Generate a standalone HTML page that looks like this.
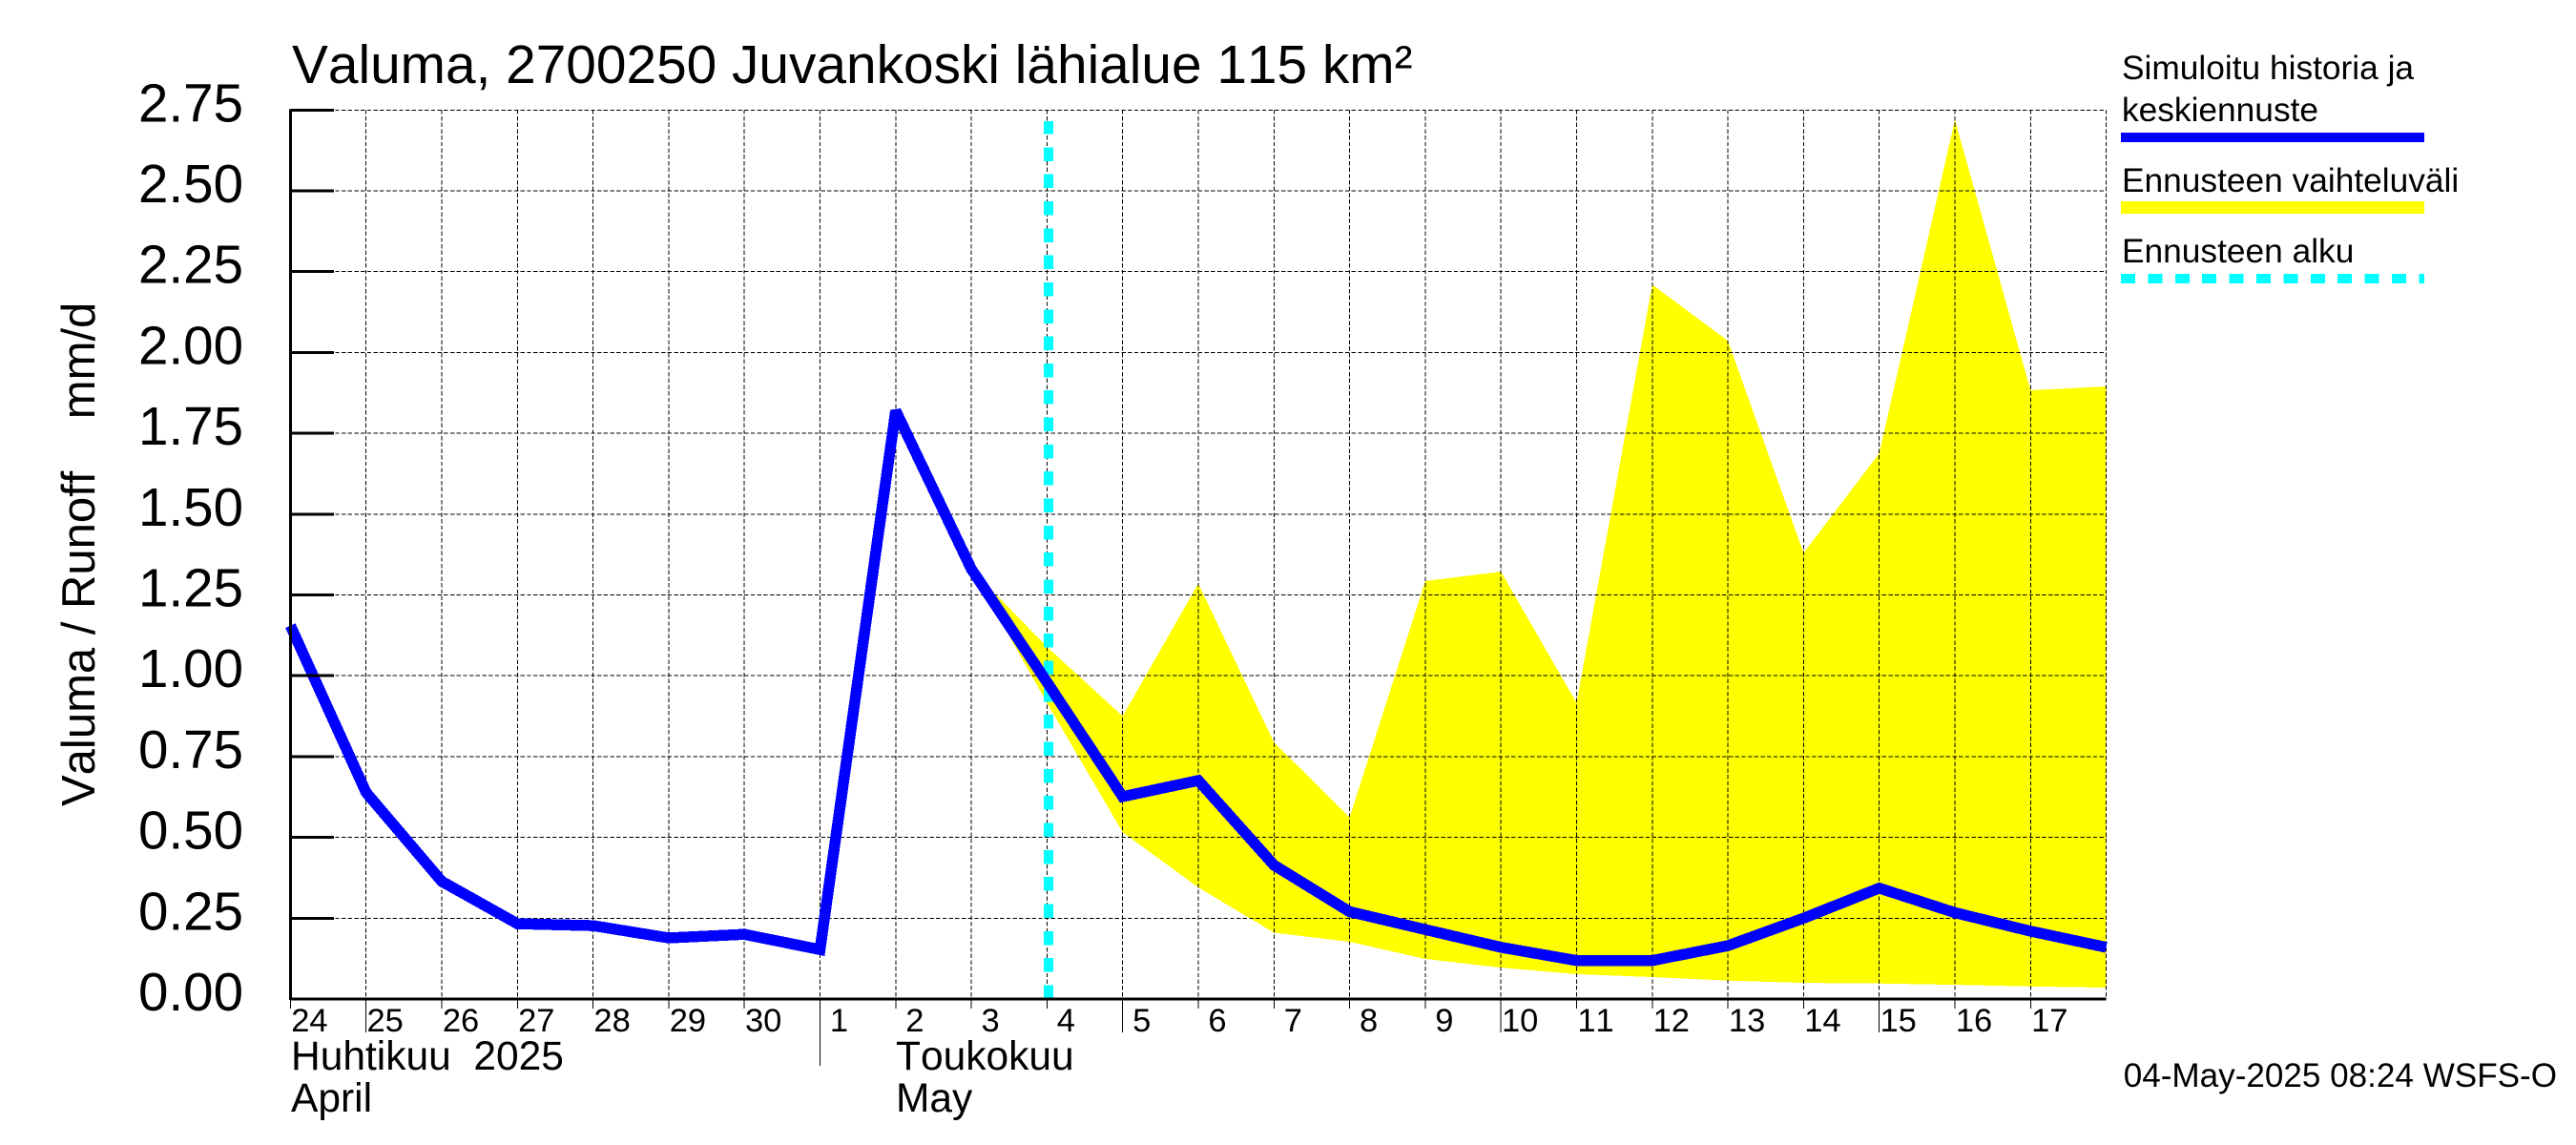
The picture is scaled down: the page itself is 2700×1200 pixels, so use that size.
<!DOCTYPE html>
<html lang="fi">
<head>
<meta charset="utf-8">
<title>Valuma, 2700250 Juvankoski lähialue 115 km²</title>
<style>
html,body{margin:0;padding:0;background:#fff;}
svg{display:block;}
text{font-family:"Liberation Sans",Arial,sans-serif;fill:#000;white-space:pre;font-kerning:none;font-feature-settings:"kern" 0,"liga" 0;}
</style>
</head>
<body>
<svg id="chart" xmlns="http://www.w3.org/2000/svg" width="2700" height="1200" viewBox="0 0 2700 1200">
  <rect x="0" y="0" width="2700" height="1200" fill="#fff"/>
  <g id="band-layer"></g>
  <g id="grid-layer"></g>
  <g id="marker-layer"></g>
  <g id="line-layer"></g>
  <g id="axis-layer"></g>

  <text x="306" y="87" font-size="56.8">Valuma, 2700250 Juvankoski lähialue 115 km²</text>
  <text transform="translate(99 845) rotate(-90)" font-size="49">Valuma / Runoff    mm/d</text>

  <text x="305" y="1121" font-size="42.5">Huhtikuu  2025</text>
  <text x="305" y="1165" font-size="42.5">April</text>
  <text x="939" y="1121" font-size="42.5">Toukokuu</text>
  <text x="939" y="1165" font-size="42.5">May</text>

  <text x="2224" y="83" font-size="35.3">Simuloitu historia ja</text>
  <text x="2224" y="127" font-size="35.3">keskiennuste</text>
  <rect x="2223" y="139" width="318" height="10" fill="#0000ff"/>
  <text x="2224" y="201" font-size="35.3">Ennusteen vaihteluväli</text>
  <rect x="2223" y="211" width="318" height="13" fill="#ffff00"/>
  <text x="2224" y="275" font-size="35.3">Ennusteen alku</text>
  <line x1="2223" y1="292" x2="2541" y2="292" stroke="#00ffff" stroke-width="10" stroke-dasharray="15 13.4" shape-rendering="crispEdges"/>

  <text x="2680" y="1139" font-size="35.1" text-anchor="end">04-May-2025 08:24 WSFS-O</text>
</svg>

<script>
// Chart data
const dayLabels = ["24","25","26","27","28","29","30","1","2","3","4","5","6","7","8","9","10","11","12","13","14","15","16","17"];
const yTickValues = [0, 0.25, 0.5, 0.75, 1, 1.25, 1.5, 1.75, 2, 2.25, 2.5, 2.75];
const yTickLabels = ["0.00","0.25","0.50","0.75","1.00","1.25","1.50","1.75","2.00","2.25","2.50","2.75"];
const longTickDays = [1, 11, 16, 21];
const monthTickDays = [7];
const dayCount = 24;
const yMax = 2.75;
const forecastStartDay = 10.02;
const forecastStartTop = 2.715;

// Central run, one value per day from day 0
const runoffValues = [1.155, 0.639, 0.364, 0.233, 0.227, 0.189, 0.2, 0.153, 1.82, 1.33, 0.98, 0.626, 0.676, 0.414, 0.27, 0.215, 0.16, 0.119, 0.119, 0.165, 0.25, 0.343, 0.267, 0.21, 0.16];

// Forecast band starts at this day
const bandStartDay = 9;
const bandUpper = [1.33, 1.089, 0.875, 1.285, 0.794, 0.562, 1.293, 1.322, 0.916, 2.21, 2.036, 1.38, 1.688, 2.72, 1.883, 1.895];
const bandLower = [1.33, 0.916, 0.516, 0.345, 0.205, 0.177, 0.124, 0.097, 0.077, 0.068, 0.057, 0.05, 0.048, 0.044, 0.039, 0.035];

// Axis functions
function xAxis(day) { return 304.4 + day * (1903.2 / dayCount); }
function yAxis(value) { return 1047 - value * (931.7 / yMax); }

const NS = 'http://www.w3.org/2000/svg';
function make(tag, parent, attrs) {
  const el = document.createElementNS(NS, tag);
  for (const k in attrs) el.setAttribute(k, attrs[k]);
  parent.appendChild(el);
  return el;
}
const bandLayer = document.getElementById('band-layer');
const gridLayer = document.getElementById('grid-layer');
const markerLayer = document.getElementById('marker-layer');
const lineLayer = document.getElementById('line-layer');
const axisLayer = document.getElementById('axis-layer');
const plotLeft = xAxis(0), plotRight = xAxis(dayCount);
const plotBottom = yAxis(0), plotTop = yAxis(yMax);

// Forecast band
const upperPts = bandUpper.map((v, i) => xAxis(bandStartDay + i).toFixed(1) + ',' + yAxis(v).toFixed(1));
const lowerPts = bandLower.map((v, i) => xAxis(bandStartDay + i).toFixed(1) + ',' + yAxis(v).toFixed(1)).reverse();
const band = make('polygon', bandLayer, { points: upperPts.concat(lowerPts).join(' '), fill: '#ffff00', 'shape-rendering': 'crispEdges' });



// Horizontal grid and y ticks
yTickValues.forEach((v, i) => {
  const y = yAxis(v);
  if (v > 0) {
    const g = make('line', gridLayer, { x1: plotLeft, y1: y, x2: plotRight, y2: y, stroke: '#000', 'stroke-width': 1, 'stroke-dasharray': '4.4 2.3', 'shape-rendering': 'crispEdges' });
    
    
    const t = make('line', axisLayer, { x1: plotLeft, y1: y, x2: 350, y2: y, stroke: '#000', 'stroke-width': 3, 'shape-rendering': 'crispEdges' });
    
    
  }
  const label = make('text', axisLayer, { x: 255, y: y + 12, 'font-size': 56.5, 'text-anchor': 'end' });
  label.textContent = yTickLabels[i];
  
  
});

// Vertical grid, x ticks and day labels
for (let d = 1; d <= dayCount; d++) {
  const x = xAxis(d);
  const g = make('line', gridLayer, { x1: x, y1: plotTop, x2: x, y2: plotBottom, stroke: '#000', 'stroke-width': 1, 'stroke-dasharray': '4.4 2.3', 'shape-rendering': 'crispEdges' });
  
  
}
dayLabels.forEach((lab, d) => {
  const x = xAxis(d);
  let end = 1057;
  if (longTickDays.includes(d)) end = 1082;
  if (monthTickDays.includes(d)) end = 1117;
  const t = make('line', axisLayer, { x1: x, y1: plotBottom, x2: x, y2: end, stroke: '#000', 'stroke-width': 1, 'shape-rendering': 'crispEdges' });
  
  
  const label = make('text', axisLayer, { x: x + 20, y: 1081, 'font-size': 34.5, 'text-anchor': 'middle' });
  label.textContent = lab;
  
  
});

// Forecast start marker
const marker = make('line', markerLayer, { x1: xAxis(forecastStartDay), y1: plotBottom, x2: xAxis(forecastStartDay), y2: yAxis(forecastStartTop), stroke: '#00ffff', 'stroke-width': 10, 'stroke-dasharray': '14.5 13.83', 'shape-rendering': 'crispEdges' });



// Central run line
const linePts = runoffValues.map((v, i) => xAxis(i).toFixed(1) + ',' + yAxis(v).toFixed(1)).join(' ');
const runoffLine = make('polyline', lineLayer, { points: linePts, fill: 'none', stroke: '#0000ff', 'stroke-width': 11.5, 'stroke-linejoin': 'miter', 'stroke-miterlimit': 3, 'shape-rendering': 'crispEdges' });



// Axis lines
const yLine = make('line', axisLayer, { x1: plotLeft, y1: plotTop - 1, x2: plotLeft, y2: plotBottom + 1, stroke: '#000', 'stroke-width': 3, 'shape-rendering': 'crispEdges' });


const xLine = make('line', axisLayer, { x1: plotLeft, y1: plotBottom, x2: plotRight, y2: plotBottom, stroke: '#000', 'stroke-width': 3, 'shape-rendering': 'crispEdges' });


</script>
</body>
</html>
